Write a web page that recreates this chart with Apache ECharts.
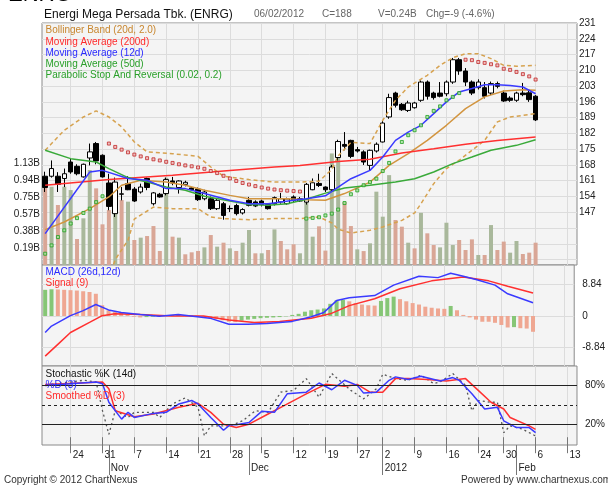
<!DOCTYPE html>
<html><head><meta charset="utf-8">
<script src="https://cdn.jsdelivr.net/npm/echarts@6/dist/echarts.min.js"></script>
<style>html,body{margin:0;padding:0;background:#fff}#c{width:608px;height:485px}</style>
</head><body><div id="c"></div>
<script>
// ---------- DATA ----------
const dates = ['10-18','10-19','10-20','10-21','10-24','10-25','10-26','10-27','10-28','10-31',
'11-01','11-02','11-03','11-04','11-07','11-08','11-09','11-10','11-11','11-14',
'11-15','11-16','11-17','11-18','11-21','11-22','11-23','11-24','11-25','11-28',
'11-29','11-30','12-01','12-02','12-05','12-06','12-07','12-08','12-09','12-12',
'12-13','12-14','12-15','12-16','12-19','12-20','12-21','12-22','12-23','12-27',
'12-28','12-29','12-30','01-02','01-03','01-04','01-05','01-06','01-09','01-10',
'01-11','01-12','01-13','01-16','01-17','01-18','01-19','01-20','01-24','01-25',
'01-26','01-27','01-30','01-31','02-01','02-02','02-03','02-06','02-07','02-08',
'02-09','02-10','02-13','02-14'];
const tickDates = ['10-24','10-31','11-07','11-14','11-21','11-28','12-05','12-12','12-19','12-27','01-02','01-09','01-16','01-24','01-30','02-06','02-13'];
const monthTicks = ['11-01','12-01','01-02','02-01'];
const monthNames = ['Nov','Dec','2012','Feb'];
const priceTicks = [126,133,140,147,154,161,168,175,182,189,196,203,210,217,224,231];
const priceLabels = [147,154,161,168,175,182,189,196,203,210,217,224,231];
const volLabels = [0.1885,0.377,0.5655,0.754,0.9425,1.131];
const macdLabels = [-8.84,0,8.84];
const stochLabels = [20,80];
const stochLevels = [20,50,80];

// open, close, low, high
const ohlc = [
[163,158,156,165],[163,166.4,162.4,170],[163,159.4,156,164.8],[162,164.1,158.2,166.4],[169.3,164.9,164.1,170.8],
[167.4,164.1,163.4,168.3],[162.7,168.3,162.4,168.6],[171.1,173.8,167.8,177.5],[177.5,169.8,168.3,178.2],[172.3,162.7,162.4,172.7],
[160,149.6,147.9,164.1],[146.4,160.4,144.9,162.4],[155,155.2,152.3,158.2],[159.7,157,156.8,163],[157.3,152,151.6,158.2],
[156,158.2,155.3,159.7],[162,158,156.8,162.4],[150.8,155.6,150,156],[155,153.8,153.5,155.6],[155.3,161.5,154.5,162.4],
[160.9,160,159,162.7],[158,160.9,155.3,161.2],[159.4,160.3,158.5,161],[157.8,157,156.8,158.2],[157.3,152.6,152,158],
[153,156,152.3,157],[153,148.6,148,154],[148.6,152.3,148,153],[150.8,145.6,143.7,151.6],[148.6,148.7,147.1,150],
[150,146.4,145.6,150.8],[146.7,148.2,146,148.8],[152.3,150.1,149.6,153.8],[151.6,149.8,149.3,152.3],[152,150.4,149.6,152.6],
[150.4,148.6,148.2,151],[150.8,153.5,150,154],[151.6,153,150.8,155.6],[150.8,152.9,150.4,153.5],[153.8,152.3,151.6,154.5],
[152,153,151.6,153.8],[151.5,159.4,150.4,160],[157,160.1,156.8,162],[159.8,158.9,158.2,164.1],[158.2,157,156,158.5],
[157,167.1,156,168],[171.3,178.4,170,179.2],[177.1,176.3,174.5,182.6],[178.9,171.8,171,179.2],[174.8,174.2,173.5,176],
[173.8,169.3,168,174.5],[167.8,174.5,165.6,174.8],[174.2,177.2,173.5,178],[178.2,186.6,178,187.5],[189.3,197.9,188.5,199.6],
[199.9,194.5,193.5,200.5],[194.9,192.5,192,195.5],[192.2,195.5,191.5,196.5],[193.4,195.5,193,196],[196.7,204.8,196,205.5],
[204.8,198.5,197,205.5],[199.9,197.9,197,200.5],[199.9,198.5,198,204.8],[199.6,204.8,198.5,205.5],[204.8,214.7,204,215.5],
[214.7,209.7,208,215.5],[209.7,204.8,203,211],[204.8,199.9,199,205.5],[202.3,204.8,201.5,206],[202.3,198.5,197.5,204.8],
[199.9,204.1,199,205],[204.1,202.9,202,205],[199.9,196.4,196,201],[197.7,196.7,196,198.5],[196.7,199.9,196,200.5],
[199.9,199.2,198.5,204.4],[200,197,196,201],[198.5,188,187.5,199]];

// volume in billions
const volume = [0.889,0.870,0.667,0.870,0.833,0.289,0.519,1.056,0.852,0.452,
0.611,0.704,0.722,0.704,0.278,0.304,0.322,0.433,0.156,0.970,
0.315,0.304,0.119,0.141,0.156,0.196,0.333,0.204,0.248,0.185,
0.156,0.248,0.389,0.130,0.130,0.167,0.396,0.267,0.174,0.230,
0.130,0.80,0.315,0.43,0.16,1.24,1.30,0.70,0.433,0.174,
0.155,0.241,0.815,0.537,0.999,0.50,0.426,0.248,0.185,0.58,
0.352,0.222,0.196,0.47,0.222,0.278,0.167,0.285,0.111,0.111,
0.444,0.167,0.26,0.137,0.267,0.122,0.137,0.248];

// indicator readings: [dayIndex, value]
const ma12 = [[0,137.5],[7,164.9],[9,165.6],[13,162],[16,161.2],[19,157.5],[22,157.5],[25,155.3],[29,152.3],[32,150.8],[35,150.8],[39,152.3],[41,153],[44,154.3],[46,158.2],[48,161.9],[51,165.6],[53,171.5],[55,178.9],[57,182.6],[59,185.6],[61,190.8],[63,196],[65,200.4],[67,201.9],[69,203.6],[71,203.6],[73,203.3],[75,202.6],[77,199.6]];
const ma20 = [[0,139.3],[3,142.7],[7,148.6],[10,153.8],[12,159],[15,161.2],[19,160.4],[22,159],[25,156.8],[29,154.5],[32,153],[35,153],[38,153],[41,152.6],[44,152.3],[47,155.3],[51,160.4],[54,167.8],[57,173],[60,178.9],[63,185.6],[66,193],[69,198.2],[72,200.8],[75,201.4],[77,201.1]];
const ma50 = [[0,174.5],[4,170.8],[8,169.3],[10,166.4],[13,162.4],[16,160.4],[19,158.2],[22,156.8],[25,154.1],[29,152],[32,150.4],[35,150.1],[38,150.8],[41,152.8],[44,155.5],[47,157.8],[51,159],[55,160.4],[58,161.9],[61,164.9],[64,168.6],[67,171.5],[70,174.5],[74,176.7],[77,179.2]];
const ma200 = [[0,159],[10,161.5],[20,163.4],[28,165.3],[36,167.1],[40,167.8],[46,169.5],[51,170.5],[56,173.3],[61,175.2],[66,177.2],[71,178.9],[77,180.4]];
const bbUpper = [[0,174.5],[3,183.4],[6,189.3],[8,192],[10,189.3],[12,184.9],[14,178.2],[16,173.8],[20,173],[24,171.8],[26,167.1],[28,163],[32,161.5],[36,160.4],[40,160.4],[43,160.8],[45,166],[46,172],[48,178],[51,177.5],[53,187.8],[55,196.7],[57,202.6],[60,207.8],[62,212.2],[64,215.6],[66,217.4],[68,217.4],[70,215.2],[72,212.2],[74,211.8],[77,212.2]];
const bbLower = [[10,118],[11,126],[13,134.6],[14,144],[17,149.3],[20,148.6],[24,148.6],[26,144.9],[28,144.2],[32,143.7],[36,144.2],[40,144.2],[43,144.9],[45,142.3],[46,139.5],[48,137.8],[51,139],[53,140.5],[56,143.4],[58,146.7],[59,150.8],[61,159.7],[63,166.4],[65,170.1],[67,174.5],[69,178.9],[71,187.1],[73,189.3],[75,190],[77,190.8]];
const sar = [128.6,132.3,136,139,142,144.4,146.7,148.6,151.5,154.1,
177.5,176,174.8,173.6,172.6,171.8,171,170.5,170,169.4,
168.9,168.3,167.8,167.4,166.9,166.3,165.3,164.4,163.2,162,
160.9,160,159.3,158.6,158,157.5,157.1,156.8,156.6,156.4,
156.2,144.2,144.5,144.8,145.6,146.4,148.2,151.1,155,156.7,
159,160.4,161.9,165.3,168.9,174,178.2,181.2,183.4,185.6,
189.3,192,194,196.7,198.2,199.9,214.7,214.5,213.7,213.3,
212.7,212.2,210.7,210.2,209.3,208.3,207.3,205.9];

const macd = [[0,-4.6],[1,-2.8],[4,0.1],[6,1.5],[8,3.2],[10,1.7],[12,1.0],[15,0.4],[18,-0.1],[21,0.4],[26,-0.6],[29,-2.3],[32,-2.3],[35,-2.1],[39,-1.5],[42,-0.2],[44,1.0],[46,4.3],[48,5.1],[52,5.7],[55,8.6],[59,11.1],[62,10.7],[64,11.9],[66,11.1],[68,10.2],[71,8.6],[73,6.2],[77,3.7]];
const signal = [[0,-11.2],[2,-7.9],[4,-4.6],[7,-1.8],[9,0.1],[11,0.6],[15,0.4],[20,0],[25,0],[29,-1.1],[33,-1.8],[37,-1.5],[42,-0.6],[45,0.6],[48,2.9],[52,4.8],[56,7.6],[61,9.8],[66,10.9],[70,9.8],[73,8.3],[77,6.4]];
const macdHist = [7.3,7.45,7.4,7.3,7.2,7.1,6.9,6.7,6.2,3.0,
1.6,1.2,0.9,0.7,-0.2,-0.4,-0.3,-0.2,-0.1,0.2,
0.3,0.35,0.3,0.2,0.1,-0.2,-0.5,-0.8,-1.2,-1.6,
-1.7,-1.3,-1.0,-0.8,-0.6,-0.5,-0.4,-0.3,-0.1,0.3,
0.6,1.2,1.6,1.8,2.1,3.4,4.4,4.5,4.1,3.6,
3.2,3.0,2.9,4.2,5.0,5.4,4.7,4.1,3.6,3.2,
2.6,2.3,2.1,2.0,2.8,1.6,0.3,-0.4,-1.0,-1.6,
-1.6,-1.9,-2.5,-3.2,-3.1,-3.4,-3.5,-4.4];

const stochK = [[0,80.5],[6,88.4],[8,86],[9,41.2],[10,4.5],[11,41.2],[13,30.7],[14,38.6],[17,38.6],[18,30.7],[20,51.7],[22,61.1],[24,46.4],[25,1.9],[26,17.6],[29,17.6],[31,25.5],[33,41.2],[35,38.6],[37,70],[39,72.7],[41,91],[43,62.2],[45,98.9],[48,72.7],[50,59.6],[52,75.3],[53,97.9],[55,91],[57,88.4],[59,96.3],[61,83.2],[62,85.8],[64,98.9],[66,80.5],[67,41.2],[68,56.9],[70,54.3],[71,54.3],[72,7.1],[73,17.6],[75,12.3],[77,1.9]];
const stochD = [[0,80.5],[4,83.2],[8,85.8],[9,83],[10,54.3],[12,28.1],[13,38.6],[14,30.7],[17,37],[19,38.6],[21,51.7],[23,57],[24,51.7],[26,30.7],[28,10.8],[29,19.2],[30,19.2],[32,22.8],[34,40.2],[36,38.6],[38,67.4],[41,70],[43,84.2],[45,73.7],[47,88.4],[49,80.5],[50,68.5],[52,70],[54,88.4],[55,93.7],[57,89.5],[59,94.7],[62,87.4],[64,92.6],[65,88.4],[67,67.4],[69,43.8],[71,46.4],[72,25.5],[74,15],[76,15],[77,7.1]];
const stochSD = [[0,82],[9,85.8],[10,75.3],[11,41.2],[14,31.8],[17,36],[21,46.4],[24,52.7],[26,38.6],[28,20.2],[30,15],[32,20.2],[35,36],[37,46.4],[41,67.4],[44,82.1],[47,79],[49,82],[51,70],[53,70],[55,91],[57,91],[60,89.5],[63,87.4],[66,91],[68,72.7],[70,54.3],[72,43.8],[73,30.7],[76,17.6],[77,12.3]];

// ---------- CHART ----------
const FONT = '"Liberation Sans", Arial, sans-serif';
const daySet = new Set(tickDates);
const monSet = new Set(monthTicks);
const dayFn = (i, v) => daySet.has(v);
const monFn = (i, v) => monSet.has(v);
const gridStyle = {show:true, backgroundColor:'#f4f4f4', borderColor:'#8a8a8a', borderWidth:1, left:42, right:31};

function xAx(grid, extra) {
  return Object.assign({
    type:'category', gridIndex:grid, data:dates, boundaryGap:true,
    axisLine:{show:false}, axisTick:{show:false}, axisLabel:{show:false},
    splitLine:{show:true, interval:dayFn, alignWithLabel:true, lineStyle:{color:'#dcdcdc', width:1}}
  }, extra || {});
}
const closes = ohlc.map(r => r[1]);
const volData = volume.map((v, i) => ({value:v, itemStyle:{color: (i > 0 && closes[i] > closes[i-1]) ? '#a9b89b' : '#d9a696'}}));
const histData = macdHist.map((v, i) => ({value:v, itemStyle:{color: (i === 0 || v > macdHist[i-1]) ? '#86c676' : '#efa792'}}));
const sarData = sar.map((v, i) => {
  const above = v > closes[i];
  return {value:[i, v], itemStyle: above ? {color:'#f0b8b8', borderColor:'#c02828', borderWidth:1} : {color:'#a8e2a0', borderColor:'#22a022', borderWidth:1}};
});

function line(name, data, color, xi, yi, extra) {
  return Object.assign({name, type:'line', data, xAxisIndex:xi, yAxisIndex:yi, showSymbol:false, symbol:'none',
    lineStyle:{color, width:1.5}, itemStyle:{color}, silent:true, animation:false, z:4, clip:true}, extra || {});
}

function txt(text, x, y, size, color, align) {
  return {type:'text', z:100, style:{text, x, y, font: size + 'px ' + FONT, fill:color, align: align || 'left', verticalAlign:'middle'}};
}

const option = {
  animation:false,
  backgroundColor:'#fff',
  grid:[
    Object.assign({top:23, height:242}, gridStyle),
    Object.assign({top:265, height:101}, gridStyle),
    Object.assign({top:366, height:79}, gridStyle)
  ],
  xAxis:[
    xAx(0), xAx(1),
    xAx(2, {
      axisTick:{show:true, interval:dayFn, alignWithLabel:true, length:16, lineStyle:{color:'#777'}},
      axisLabel:{show:true, interval:dayFn, formatter:v => String(parseInt(v.slice(3), 10)), align:'left', margin:5, padding:[0,0,0,2], fontSize:10, color:'#222', fontFamily:FONT}
    }),
    {type:'category', gridIndex:2, data:dates, boundaryGap:true, position:'bottom',
      axisLine:{show:false}, splitLine:{show:false},
      axisTick:{show:true, interval:monFn, alignWithLabel:true, length:30, lineStyle:{color:'#777'}},
      axisLabel:{show:true, interval:monFn, formatter:v => monthNames[monthTicks.indexOf(v)], align:'left', margin:18, padding:[0,0,0,2], fontSize:10, color:'#222', fontFamily:FONT}}
  ],
  yAxis:[
    {type:'value', gridIndex:0, position:'right', min:123.6, max:231, scale:true,
      axisLine:{show:false}, axisTick:{show:false, customValues:priceTicks},
      axisLabel:{customValues:priceLabels, margin:2, fontSize:10, color:'#222', fontFamily:FONT},
      splitLine:{show:true, lineStyle:{color:'#dcdcdc'}}},
    {type:'value', gridIndex:0, position:'left', min:0, max:2.69,
      axisLine:{show:false}, axisTick:{show:false}, splitLine:{show:false},
      axisLabel:{customValues:volLabels, formatter:v => v.toFixed(2) + 'B', margin:2, fontSize:10, color:'#222', fontFamily:FONT}},
    {type:'value', gridIndex:1, position:'right', min:-13.94, max:14.22,
      axisLine:{show:false}, axisTick:{show:false, customValues:macdLabels},
      axisLabel:{customValues:macdLabels, formatter:v => v === 0 ? '0' : v.toFixed(2), margin:8, fontSize:10, color:'#222', fontFamily:FONT},
      splitLine:{show:true, lineStyle:{color:'#dcdcdc'}}},
    {type:'value', gridIndex:2, position:'right', min:-12.1, max:110.6,
      axisLine:{show:false}, axisTick:{show:false, customValues:stochLabels},
      axisLabel:{customValues:stochLabels, formatter:v => v + '%', margin:8, fontSize:10, color:'#222', fontFamily:FONT},
      splitLine:{show:false}}
  ],
  series:[
    {type:'bar', name:'vol', xAxisIndex:0, yAxisIndex:1, data:volData, barWidth:4, z:1, silent:true},
    {type:'candlestick', name:'price', xAxisIndex:0, yAxisIndex:0, data:ohlc, barWidth:5, z:3, silent:true,
      itemStyle:{color:'#ffffff', color0:'#000000', borderColor:'#000000', borderColor0:'#000000', borderWidth:1}},
    line('bbU', bbUpper, '#d6a24f', 0, 0, {lineStyle:{color:'#d6a24f', width:1.5, type:[4,3]}}),
    line('bbL', bbLower, '#d6a24f', 0, 0, {lineStyle:{color:'#d6a24f', width:1.5, type:[4,3]}}),
    line('ma20', ma20, '#d29540', 0, 0),
    line('ma200', ma200, '#ff3030', 0, 0),
    line('ma50', ma50, '#3aaa3a', 0, 0),
    line('ma12', ma12, '#3a3aff', 0, 0),
    {type:'scatter', name:'sar', xAxisIndex:0, yAxisIndex:0, data:sarData, symbol:'rect', symbolSize:3, z:5, silent:true},
    {type:'bar', name:'hist', xAxisIndex:1, yAxisIndex:2, data:histData, barWidth:4, z:1, silent:true},
    line('signal', signal, '#ff3030', 1, 2),
    line('macd', macd, '#3a3aff', 1, 2),
    line('k', stochK, '#555555', 2, 3, {lineStyle:{color:'#555', width:1.3, type:[2,3]}}),
    line('sd', stochSD, '#ff3030', 2, 3),
    line('d', stochD, '#3a3aff', 2, 3, {markLine:{silent:true, symbol:'none', label:{show:false}, animation:false,
      data: stochLevels.map(v => ({yAxis:v, lineStyle:{color:'#222', width:1, type: v === 50 ? [3,3] : 'solid'}}))}})
  ],
  graphic:[
    {type:'text', z:100, style:{text:'ENRG', x:8, y:-5.5, font:'22px ' + FONT, fill:'#000', align:'left', verticalAlign:'middle'}},
    txt('Energi Mega Persada Tbk. (ENRG)', 44, 14.5, 12, '#111'),
    txt('06/02/2012', 254, 14.5, 10, '#666'),
    txt('C=188', 322, 14.5, 10, '#666'),
    txt('V=0.24B', 378, 14.5, 10, '#666'),
    txt('Chg=-9 (-4.6%)', 426, 14.5, 10, '#666'),
    txt('Bollinger Band (20d, 2.0)', 45.5, 30, 10, '#c8862e'),
    txt('Moving Average (200d)', 45.5, 42, 10, '#ff2a2a'),
    txt('Moving Average (12d)', 45.5, 53.2, 10, '#2a2aff'),
    txt('Moving Average (50d)', 45.5, 64.3, 10, '#2aa02a'),
    txt('Parabolic Stop And Reversal (0.02, 0.2)', 45.5, 75.3, 10, '#2aa02a'),
    txt('MACD (26d,12d)', 45.5, 272.7, 10, '#2a2aff'),
    txt('Signal (9)', 45.5, 283.3, 10, '#ff2a2a'),
    txt('Stochastic %K (14d)', 45.5, 374, 10, '#111'),
    txt('%D (3)', 45.5, 385, 10, '#2a2aff'),
    txt('Smoothed %D (3)', 45.5, 396, 10, '#ff2a2a'),
    txt('Copyright \u00a9 2012 ChartNexus', 4, 480, 10, '#333'),
    txt('Powered by www.chartnexus.com', 461, 480, 10, '#333')
  ]
};
const chart = echarts.init(document.getElementById('c'), null, {renderer:'canvas'});
chart.setOption(option);
</script>
</body></html>
